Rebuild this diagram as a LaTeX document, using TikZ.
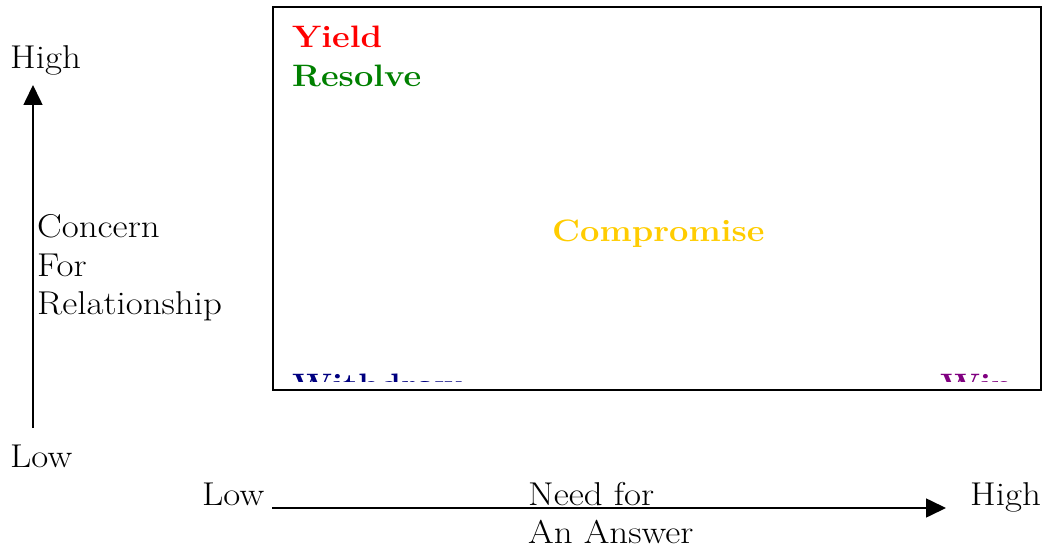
\documentclass[tikz,border=0pt]{standalone}
\usepackage{fontspec}
\usetikzlibrary{arrows.meta}
\definecolor{resgreen}{RGB}{0,128,0}
\definecolor{compgold}{RGB}{255,204,0}
\definecolor{wdnavy}{RGB}{0,0,128}
\definecolor{winpurple}{RGB}{128,0,128}
% widened lettering for the axis labels and the style names
\newcommand{\axtext}[1]{\scalebox{1.12}[1]{#1}}
\newcommand{\sttext}[1]{\scalebox{1.11}[1]{#1}}
\tikzset{
  axislabel/.style={inner sep=0pt, anchor=base west, font=\fontsize{33}{39}\selectfont},
  stylelabel/.style={inner sep=0pt, anchor=base west, font=\fontsize{31}{37}\selectfont\bfseries},
  axisarrow/.style={line width=1.6pt, -{Triangle[length=20pt,width=19pt]}},
}
\begin{document}
\begin{tikzpicture}[x=1pt,y=-1pt]
\useasboundingbox (0,0) rectangle (1045,551);

% grid box
\draw[line width=1.8pt] (273,7) rectangle (1041,390);

% style names inside the box
\node[stylelabel, text=red] (yield) at (292,48) {\sttext{Yield}};
\node[stylelabel, text=resgreen] (resolve) at (292,87) {\sttext{Resolve}};
\node[stylelabel, text=compgold] (compromise) at (552,241) {\sttext{Compromise}};
\begin{scope}
  \clip (275,9) rectangle (1039,381);
  \node[stylelabel, text=wdnavy] (withdraw) at (292,395) {\sttext{Withdraw}};
  \node[stylelabel, text=winpurple] (win) at (940,395) {\sttext{Win}};
\end{scope}

% vertical axis
\coordinate (vlow) at (33,428);
\coordinate (vhigh) at (33,85);
\draw[axisarrow] (vlow) -- (vhigh);
\node[axislabel] (vhighlabel) at (10,69) {\axtext{High}};
\node[axislabel] (vlowlabel) at (10,467) {\axtext{Low}};
\node[axislabel] (concern) at (37,237) {\axtext{Concern}};
\node[axislabel] (for) at (37,276) {\axtext{For}};
\node[axislabel] (relationship) at (37,314) {\axtext{Relationship}};

% horizontal axis
\coordinate (hlow) at (272,508);
\coordinate (hhigh) at (946,508);
\draw[axisarrow] (hlow) -- (hhigh);
\node[axislabel] (hlowlabel) at (202,505) {\axtext{Low}};
\node[axislabel] (hhighlabel) at (970,505) {\axtext{High}};
\node[axislabel] (needfor) at (528,505) {\axtext{Need for}};
\node[axislabel] (answer) at (528,543) {\axtext{An Answer}};
\end{tikzpicture}
\end{document}
